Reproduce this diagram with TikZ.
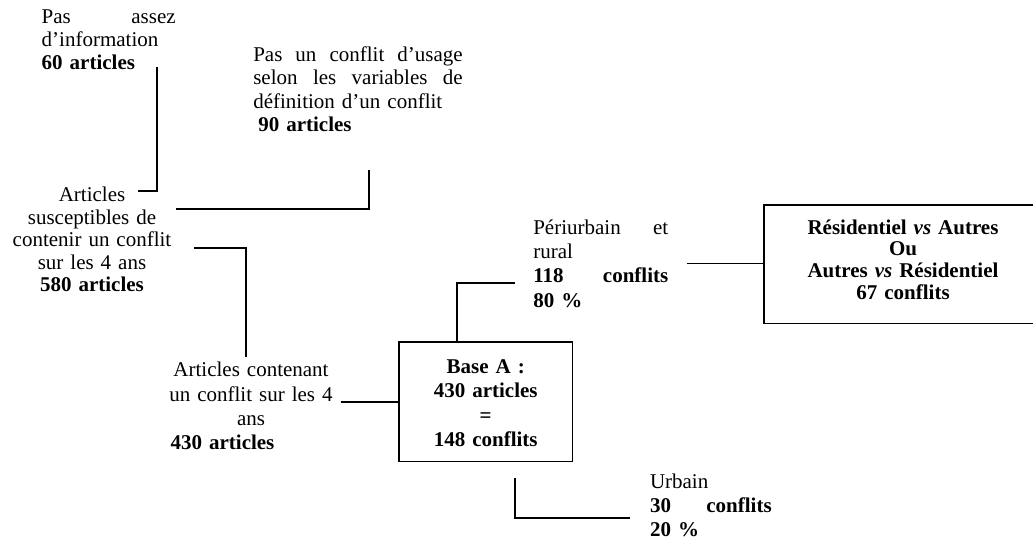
\documentclass[tikz,border=0pt]{standalone}
\usepackage{fontspec}
\setmainfont{Liberation Serif}
\begin{document}
\begin{tikzpicture}[x=1pt,y=-1pt,
  lbl/.style={inner sep=0pt, outer sep=0pt, font=\fontsize{21}{23.3}\selectfont},
  conn/.style={line width=1.6pt},
  boxnode/.style={draw, line width=1.6pt, inner sep=0pt, outer sep=0pt, align=center}]
\useasboundingbox (0,0) rectangle (1033,543);
\fill[white] (0,0) rectangle (1033,543);

% texts
\node[lbl, anchor=base west, text width=134pt, align=left] (info) at (41.7,23.3)
  {Pas\hfill assez\\d’information\\\textbf{60 articles}};
\node[lbl, anchor=base west, text width=209.4pt, align=left] (usage) at (253.3,61.7)
  {Pas\hfill un\hfill conflit\hfill d’usage\\selon\hfill les\hfill variables\hfill de\\définition d’un conflit\\\hspace*{5pt}\textbf{90 articles}};
\node[lbl, anchor=base, text width=170pt, align=center, font=\fontsize{21}{22.5}\selectfont] (susc) at (92,201.7)
  {Articles\\susceptibles de\\contenir un conflit\\sur les 4 ans\\\textbf{580 articles}};
\node[lbl, anchor=base, text width=170pt, align=center, font=\fontsize{21}{24.4}\selectfont] (cont) at (251,376.7)
  {Articles contenant\\un conflit sur les 4\\ans\\\hspace*{-57pt}\textbf{430 articles}};
\node[lbl, anchor=base west, text width=135pt, align=left, font=\fontsize{21}{24.4}\selectfont] (peri) at (533.3,234)
  {Périurbain\hfill et\\rural\\\textbf{118\hfill conflits}\\\textbf{80 \%}};
\node[lbl, anchor=base west, text width=121.7pt, align=left, font=\fontsize{21}{24.2}\selectfont] (urb) at (650,488.3)
  {Urbain\\\textbf{30\hfill conflits}\\\textbf{20 \%}};

% boxes
\node[boxnode, minimum width=173.3pt, minimum height=119.3pt, text width=170pt,
  text height=10pt, text depth=66.8pt,
  font=\fontsize{21}{24.4}\selectfont\bfseries] (baseA) at (485.7,401.7)
  {Base A :\\430 articles\\=\\148 conflits};
\node[boxnode, minimum width=278pt, minimum height=118.3pt, text width=266pt,
  text height=10pt, text depth=69.8pt,
  font=\fontsize{21}{21.6}\selectfont\bfseries] (resid) at (903,264.2)
  {Résidentiel \textit{vs} Autres\\Ou\\Autres \textit{vs} Résidentiel\\67 conflits};

% connectors
\coordinate (c1top) at (157,67);
\coordinate (c1end) at (138,191);
\draw[conn] (c1top) |- (c1end);

\coordinate (c2top) at (369,170);
\coordinate (c2end) at (175.7,209);
\draw[conn] (c2top) |- (c2end);

\coordinate (c3start) at (194,248);
\coordinate (c3end) at (245.7,356.7);
\draw[conn] (c3start) -| (c3end);

\coordinate (c4) at (340.7,401.7);
\draw[conn] (c4) -- (c4 -| baseA.west);

\coordinate (c5x) at (456.7,282.7);
\coordinate (c5end) at (515,282.7);
\draw[conn] (c5x |- baseA.north) -- (c5x) -- (c5end);

\coordinate (c6) at (686.7,263.3);
\draw[conn] (c6) -- (c6 -| resid.west);

\coordinate (c7top) at (515,478.3);
\coordinate (c7end) at (630,517.7);
\draw[conn] (c7top) |- (c7end);
\end{tikzpicture}
\end{document}
